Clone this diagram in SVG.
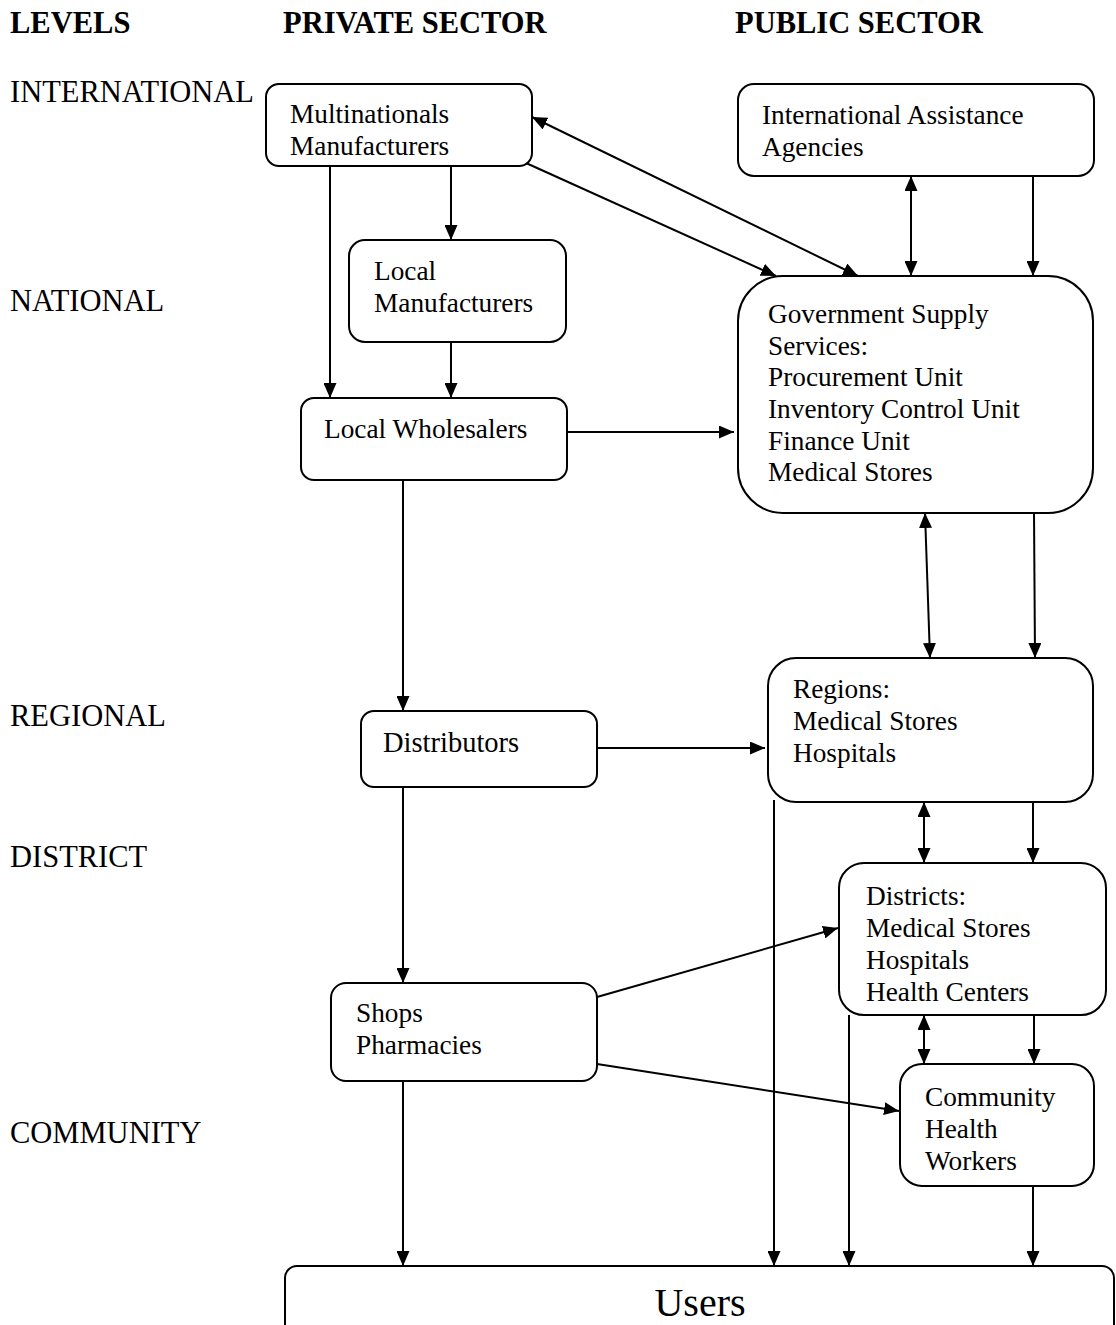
<svg xmlns="http://www.w3.org/2000/svg" width="1116" height="1325" viewBox="0 0 1116 1325">
<style>
  .box { fill: #fff; stroke: #000; stroke-width: 2; }
  .t { font-family: "Liberation Serif", "Times New Roman", serif; font-size: 27.3px; fill: #000; }
  .lbl { font-family: "Liberation Serif", "Times New Roman", serif; font-size: 30.5px; fill: #000; }
  .hdr { font-family: "Liberation Serif", "Times New Roman", serif; font-size: 30.5px; font-weight: bold; fill: #000; }
  .c line { stroke: #000; stroke-width: 2; fill: none; }
</style>
<defs>
  <marker id="ah" viewBox="0 0 15 13" refX="15" refY="6.5" markerWidth="15" markerHeight="13" markerUnits="userSpaceOnUse" orient="auto">
    <path d="M0,0 L15,6.5 L0,13 Z" fill="#000"/>
  </marker>
  <marker id="as" viewBox="0 0 15 13" refX="0" refY="6.5" markerWidth="15" markerHeight="13" markerUnits="userSpaceOnUse" orient="auto">
    <path d="M15,0 L0,6.5 L15,13 Z" fill="#000"/>
  </marker>
  <clipPath id="dclip"><rect x="839" y="863" width="267" height="139"/></clipPath>
</defs>
<rect width="1116" height="1325" fill="#fff"/>

<g id="headers">
  <text class="hdr" x="10" y="33">LEVELS</text>
  <text class="hdr" x="283" y="33">PRIVATE SECTOR</text>
  <text class="hdr" x="735" y="33">PUBLIC SECTOR</text>
</g>
<g id="levels">
  <text class="lbl" x="10" y="102">INTERNATIONAL</text>
  <text class="lbl" x="10" y="311">NATIONAL</text>
  <text class="lbl" x="10" y="726">REGIONAL</text>
  <text class="lbl" x="10" y="867">DISTRICT</text>
  <text class="lbl" x="10" y="1143">COMMUNITY</text>
</g>

<g class="c" id="connectors">
  <line x1="330" y1="166" x2="330" y2="398" marker-end="url(#ah)"/>
  <line x1="451" y1="166" x2="451" y2="240" marker-end="url(#ah)"/>
  <line x1="451" y1="342" x2="451" y2="398" marker-end="url(#ah)"/>
  <line x1="526" y1="163" x2="776" y2="276" marker-end="url(#ah)"/>
  <line x1="532" y1="117" x2="858" y2="276" marker-start="url(#as)" marker-end="url(#ah)"/>
  <line x1="911" y1="176" x2="911" y2="276" marker-start="url(#as)" marker-end="url(#ah)"/>
  <line x1="1033" y1="176" x2="1033" y2="276" marker-end="url(#ah)"/>
  <line x1="567" y1="432" x2="734" y2="432" marker-end="url(#ah)"/>
  <line x1="403" y1="480" x2="403" y2="711" marker-end="url(#ah)"/>
  <line x1="925" y1="513" x2="930" y2="658" marker-start="url(#as)" marker-end="url(#ah)"/>
  <line x1="1034" y1="513" x2="1035" y2="658" marker-end="url(#ah)"/>
  <line x1="597" y1="748" x2="765" y2="748" marker-end="url(#ah)"/>
  <line x1="403" y1="787" x2="403" y2="983" marker-end="url(#ah)"/>
  <line x1="924" y1="802" x2="924" y2="863" marker-start="url(#as)" marker-end="url(#ah)"/>
  <line x1="1033" y1="802" x2="1033" y2="863" marker-end="url(#ah)"/>
  <line x1="774" y1="800" x2="774" y2="1266" marker-end="url(#ah)"/>
  <line x1="849" y1="1015" x2="849" y2="1266" marker-end="url(#ah)"/>
  <line x1="597" y1="997" x2="838" y2="928" marker-end="url(#ah)"/>
  <line x1="597" y1="1064" x2="899" y2="1111" marker-end="url(#ah)"/>
  <line x1="924" y1="1015" x2="924" y2="1064" marker-start="url(#as)" marker-end="url(#ah)"/>
  <line x1="1034" y1="1015" x2="1034" y2="1064" marker-end="url(#ah)"/>
  <line x1="403" y1="1081" x2="403" y2="1266" marker-end="url(#ah)"/>
  <line x1="1033" y1="1186" x2="1033" y2="1266" marker-end="url(#ah)"/>
</g>

<g id="multinationals">
  <rect class="box" x="266" y="84" width="266" height="82" rx="13"/>
  <text class="t" x="290" y="123">Multinationals</text>
  <text class="t" x="290" y="155">Manufacturers</text>
</g>
<g id="intl-agencies">
  <rect class="box" x="738" y="84" width="356" height="92" rx="16"/>
  <text class="t" x="762" y="124">International Assistance</text>
  <text class="t" x="762" y="156">Agencies</text>
</g>
<g id="local-manufacturers">
  <rect class="box" x="349" y="240" width="217" height="102" rx="16"/>
  <text class="t" x="374" y="280">Local</text>
  <text class="t" x="374" y="312">Manufacturers</text>
</g>
<g id="gov-supply">
  <rect class="box" x="738" y="276" width="355" height="237" rx="45"/>
  <text class="t" x="768" y="323">Government Supply</text>
  <text class="t" x="768" y="355">Services:</text>
  <text class="t" x="768" y="386">Procurement Unit</text>
  <text class="t" x="768" y="418">Inventory Control Unit</text>
  <text class="t" x="768" y="450">Finance Unit</text>
  <text class="t" x="768" y="481">Medical Stores</text>
</g>
<g id="local-wholesalers">
  <rect class="box" x="301" y="398" width="266" height="82" rx="13"/>
  <text class="t" x="324" y="438">Local Wholesalers</text>
</g>
<g id="distributors">
  <rect class="box" x="361" y="711" width="236" height="76" rx="13"/>
  <text class="t" x="383" y="752" style="font-size:28.5px">Distributors</text>
</g>
<g id="regions">
  <rect class="box" x="768" y="658" width="325" height="144" rx="28"/>
  <text class="t" x="793" y="698">Regions:</text>
  <text class="t" x="793" y="730">Medical Stores</text>
  <text class="t" x="793" y="762">Hospitals</text>
</g>
<g id="districts">
  <rect class="box" x="839" y="863" width="267" height="152" rx="25"/>
  <g clip-path="url(#dclip)">
    <text class="t" x="866" y="905">Districts:</text>
    <text class="t" x="866" y="937">Medical Stores</text>
    <text class="t" x="866" y="969">Hospitals</text>
    <text class="t" x="866" y="1001">Health Centers</text>
  </g>
</g>
<g id="shops">
  <rect class="box" x="331" y="983" width="266" height="98" rx="15"/>
  <text class="t" x="356" y="1022">Shops</text>
  <text class="t" x="356" y="1054">Pharmacies</text>
</g>
<g id="chw">
  <rect class="box" x="900" y="1064" width="194" height="122" rx="22"/>
  <text class="t" x="925" y="1106">Community</text>
  <text class="t" x="925" y="1138">Health</text>
  <text class="t" x="925" y="1170">Workers</text>
</g>
<g id="users">
  <rect class="box" x="285" y="1266" width="829" height="80" rx="12"/>
  <text class="t" x="700" y="1316" text-anchor="middle" style="font-size:40px">Users</text>
</g>
</svg>
